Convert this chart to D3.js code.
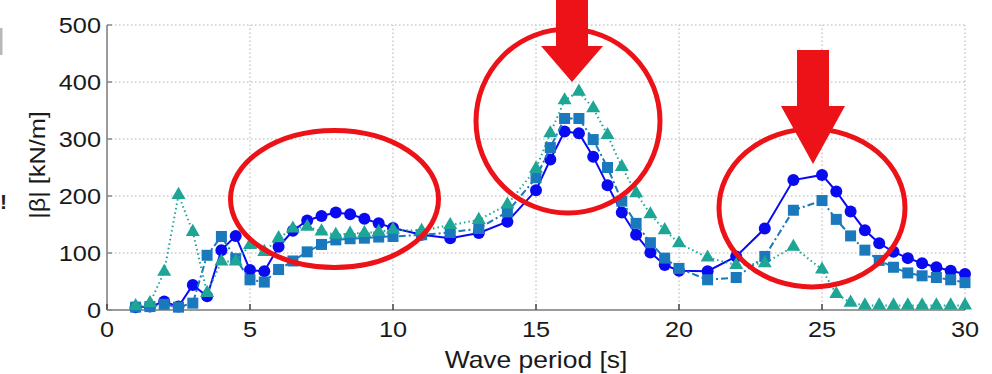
<!DOCTYPE html>
<html><head><meta charset="utf-8">
<script src="https://cdn.jsdelivr.net/npm/d3@7"></script>
<style>html,body{margin:0;padding:0;background:#fff;}svg{display:block;font-family:"Liberation Sans",Arial,sans-serif;}</style>
</head><body>
<svg id="c" width="992" height="374"></svg>
<script>
const periods = [1,1.5,2,2.5,3,3.5,4,4.5,5,5.5,6,6.5,7,7.5,8,8.5,9,9.5,10,11,12,13,14,15,15.5,16,16.5,17,17.5,18,18.5,19,19.5,20,21,22,23,24,25,25.5,26,26.5,27,27.5,28,28.5,29,29.5,30];
const seriesCircle = [5,6,15,6,44,24,105,130,70,68,111,139,157,165,171,168,160,152,144,132,126,135,155,210,264,313,310,269,219,171,132,101,79,69,68,94,143,228,237,208,173,140,117,102,91,82,75,69,63];
const seriesSquare = [5,6,10,5,12,96,129,90,53,49,71,86,102,115,123,125,126,128,129,132,136,143,172,232,285,336,336,299,250,191,152,118,91,73,53,57,94,175,192,159,130,105,87,75,65,60,57,53,48];
const seriesTriangle = [7,12,67,202,137,30,85,85,114,102,126,143,146,138,132,134,135,137,141,139,149,158,185,248,310,368,383,354,307,251,205,168,140,117,92,79,82,111,71,28,13,8,8,8,8,8,8,8,8];
const xTicks = [0,5,10,15,20,25,30];
const yTicks = [0,100,200,300,400,500];
const xTitle = "Wave period [s]";
const yTitle = "|β| [kN/m]";

const svg = d3.select("#c");
const x = d3.scaleLinear().domain([0,30]).range([107,965]);
const y = d3.scaleLinear().domain([0,500]).range([310,25]);
const SX = 1.15;

// grid
const grid = svg.append("g").attr("stroke","#b0b0b0").attr("stroke-width",1).attr("stroke-dasharray","1.5,2.5");
grid.selectAll("line.h").data(yTicks.filter(d=>d>0)).join("line")
  .attr("x1",x(0)).attr("x2",x(30)).attr("y1",d=>y(d)).attr("y2",d=>y(d));
grid.selectAll("line.v").data(xTicks.filter(d=>d>0)).join("line")
  .attr("x1",d=>x(d)).attr("x2",d=>x(d)).attr("y1",y(0)).attr("y2",y(500));

// axes
const ax = svg.append("g").attr("stroke","#7a7a7a").attr("stroke-width",1.5).attr("fill","none");
ax.append("line").attr("x1",x(0)).attr("x2",x(0)).attr("y1",y(0)).attr("y2",y(500));
ax.append("line").attr("x1",x(0)).attr("x2",x(30)).attr("y1",y(0)).attr("y2",y(0));
ax.selectAll("line.tx").data(xTicks).join("line").attr("stroke","#444")
  .attr("x1",d=>x(d)).attr("x2",d=>x(d)).attr("y1",y(0)).attr("y2",y(0)-6);
ax.selectAll("line.ty").data(yTicks).join("line").attr("stroke","#888")
  .attr("x1",x(0)).attr("x2",x(0)+5).attr("y1",d=>y(d)).attr("y2",d=>y(d));

// tick labels
svg.append("g").selectAll("text").data(xTicks).join("text")
  .attr("transform",d=>`translate(${x(d)},337) scale(${SX},1)`)
  .attr("text-anchor","middle").attr("font-size",22).attr("fill","#1a1a1a").text(d=>d);
svg.append("g").selectAll("text").data(yTicks).join("text")
  .attr("transform",d=>`translate(101,${y(d)+8}) scale(${SX},1)`)
  .attr("text-anchor","end").attr("font-size",22).attr("fill","#1a1a1a").text(d=>d);

// titles
svg.append("text").attr("transform",`translate(${x(15)},368) scale(${SX},1)`)
  .attr("text-anchor","middle").attr("font-size",23).attr("fill","#1a1a1a").text(xTitle);
svg.append("text").attr("transform",`translate(45,165) rotate(-90) scale(${SX},1)`)
  .attr("text-anchor","middle").attr("font-size",22).attr("fill","#1a1a1a").text(yTitle);

// edge fragments
svg.append("rect").attr("x",0).attr("y",28).attr("width",2.5).attr("height",27).attr("fill","#b8b8b8");
svg.append("text").attr("x",0).attr("y",209).attr("font-size",21).attr("font-weight","bold").attr("fill","#222").text("!");

const cBlue = "#0a0af0", cSq = "#1a78bd", cTri = "#1ea596";
const data = (vals)=>periods.map((p,i)=>[p,vals[i]]);
const line = d3.line().x(d=>x(d[0])).y(d=>y(d[1]));

// circle series
svg.append("path").datum(data(seriesCircle)).attr("d",line).attr("fill","none")
  .attr("stroke",cBlue).attr("stroke-width",2);
svg.append("g").selectAll("circle").data(data(seriesCircle)).join("circle")
  .attr("cx",d=>x(d[0])).attr("cy",d=>y(d[1])).attr("r",6).attr("fill",cBlue);

// square series
svg.append("path").datum(data(seriesSquare)).attr("d",line).attr("fill","none")
  .attr("stroke",cSq).attr("stroke-width",2).attr("stroke-dasharray","7,3,2,3");
svg.append("g").selectAll("rect").data(data(seriesSquare)).join("rect")
  .attr("x",d=>x(d[0])-5.5).attr("y",d=>y(d[1])-5.5).attr("width",11).attr("height",11).attr("fill",cSq);

// triangle series
svg.append("path").datum(data(seriesTriangle)).attr("d",line).attr("fill","none")
  .attr("stroke",cTri).attr("stroke-width",2).attr("stroke-dasharray","1.5,3");
const tri = d3.symbol().type(d3.symbolTriangle).size(85);
svg.append("g").selectAll("path").data(data(seriesTriangle)).join("path")
  .attr("transform",d=>`translate(${x(d[0])},${y(d[1])})`).attr("d",tri).attr("fill",cTri);

// annotations
const red = "#ec1218";
const ann = svg.append("g");
[[334.5,199,104,68.5],[568,121,92,92],[812,208,93,79]].forEach(e=>{
  ann.append("ellipse").attr("cx",e[0]).attr("cy",e[1]).attr("rx",e[2]).attr("ry",e[3])
    .attr("fill","none").attr("stroke",red).attr("stroke-width",5);
});
function arrow(cx, top, headY, tip, sw, hw){
  return `M${cx-sw},${top} L${cx+sw},${top} L${cx+sw},${headY} L${cx+hw},${headY} L${cx},${tip} L${cx-hw},${headY} L${cx-sw},${headY} Z`;
}
ann.append("path").attr("d",arrow(572,0,46,82,16,31)).attr("fill",red);
ann.append("path").attr("d",arrow(813,50,106,164,16,32)).attr("fill",red);
</script>
</body></html>
